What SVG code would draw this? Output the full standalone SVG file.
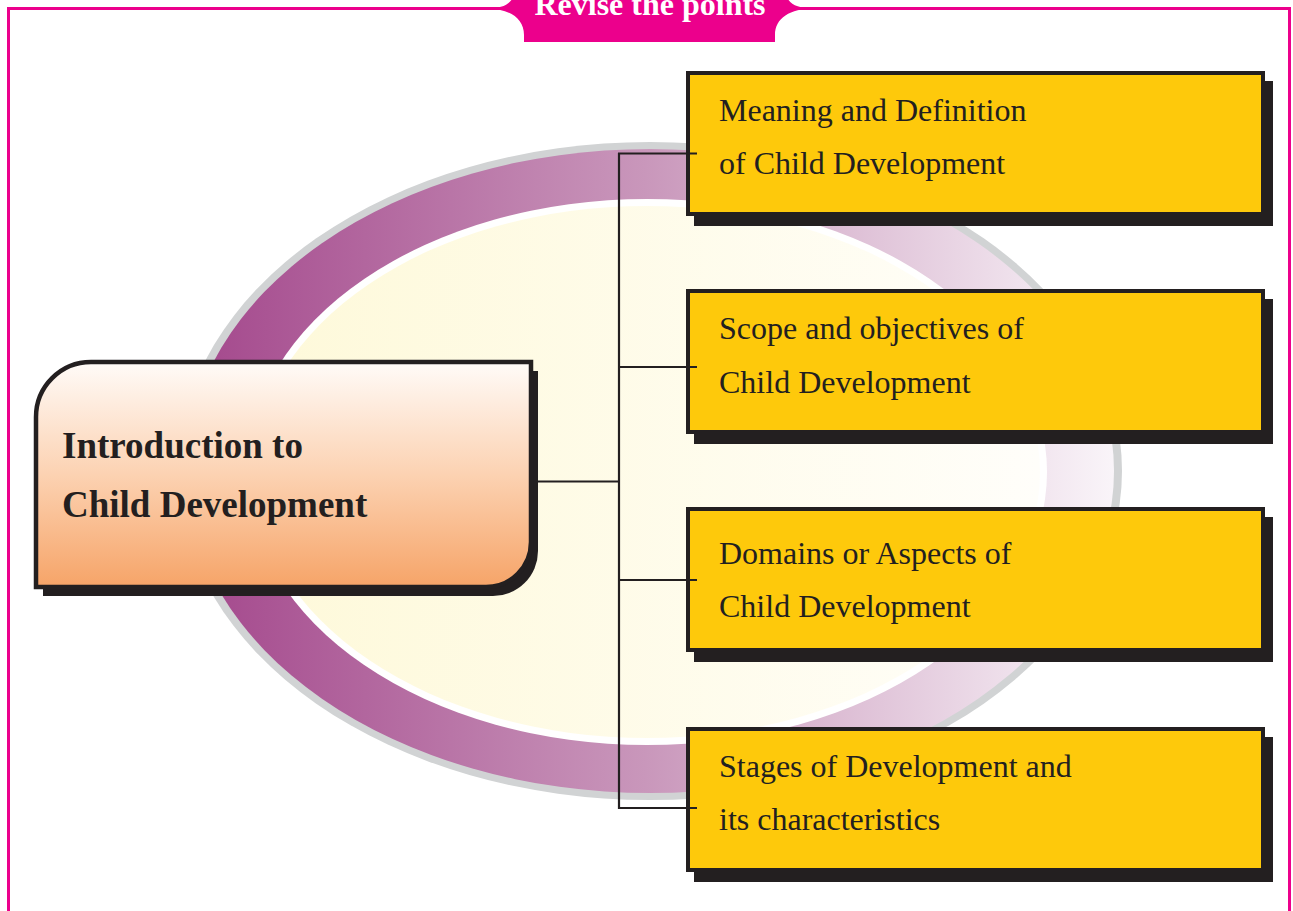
<svg xmlns="http://www.w3.org/2000/svg" width="1293" height="911" viewBox="0 0 1293 911">
  <defs>
    <linearGradient id="ring" x1="170" y1="0" x2="1122" y2="0" gradientUnits="userSpaceOnUse">
      <stop offset="0" stop-color="#a2448a"/>
      <stop offset="0.5" stop-color="#c997bb"/>
      <stop offset="1" stop-color="#faf6fa"/>
    </linearGradient>
    <linearGradient id="cream" x1="250" y1="0" x2="1040" y2="0" gradientUnits="userSpaceOnUse">
      <stop offset="0" stop-color="#fef9d9"/>
      <stop offset="1" stop-color="#fffefa"/>
    </linearGradient>
    <linearGradient id="peach" x1="0" y1="362" x2="0" y2="587" gradientUnits="userSpaceOnUse">
      <stop offset="0" stop-color="#fffbf8"/>
      <stop offset="0.5" stop-color="#fcd2b2"/>
      <stop offset="1" stop-color="#f6a468"/>
    </linearGradient>
  </defs>
  <style>
    .shadow { fill: #231f20; }
    .box { fill: #fec90b; stroke: #231f20; stroke-width: 4; }
    .boxtext { font-family: "Liberation Serif", "Times New Roman", serif; font-size: 32px; fill: #231f20; }
    .maintext { font-family: "Liberation Serif", "Times New Roman", serif; font-size: 37px; font-weight: bold; fill: #231f20; }
    .conn { stroke: #231f20; stroke-width: 2.2; fill: none; }
  </style>
  <rect x="0" y="0" width="1293" height="911" fill="#ffffff"/>

  <!-- pink frame -->
  <path d="M8.5 920 L8.5 8.5 L1289.5 8.5 L1289.5 920" fill="none" stroke="#ec008c" stroke-width="3"/>

  <!-- banner -->
  <g id="banner">
    <path d="M486 8.5 C503 8.5 511 4 514 -5 L786 -5 C789 4 797 8.5 814 8.5 C790 8.5 775 18 775 35 L775 42 L524 42 L524 35 C524 18 509 8.5 486 8.5 Z" fill="#ec008c"/>
    <text x="650" y="15" text-anchor="middle" font-family="Liberation Serif, Times New Roman, serif" font-size="32" font-weight="bold" fill="#ffffff">Revise the points</text>
  </g>

  <!-- background ellipse -->
  <g id="ellipse">
    <ellipse cx="650" cy="471" rx="472" ry="329" fill="#d1d3d4"/>
    <ellipse cx="650" cy="471" rx="464" ry="322" fill="url(#ring)"/>
    <ellipse cx="647" cy="472" rx="400" ry="273" fill="#ffffff"/>
    <ellipse cx="647" cy="472" rx="393" ry="266" fill="url(#cream)"/>
  </g>

  <!-- main node -->
  <g id="node-intro">
    <path class="shadow" d="M43 426 A55 55 0 0 1 98 371 L538 371 L538 551 A45 45 0 0 1 493 596 L43 596 Z"/>
    <path d="M36 417 A55 55 0 0 1 91 362 L531 362 L531 542 A45 45 0 0 1 486 587 L36 587 Z" fill="url(#peach)" stroke="#231f20" stroke-width="4.5"/>
    <text class="maintext" x="62" y="458">Introduction to</text>
    <text class="maintext" x="62" y="517">Child Development</text>
  </g>

  <!-- right nodes -->
  <g id="node-meaning">
    <rect class="shadow" x="694" y="81" width="579" height="145"/>
    <rect class="box" x="688" y="73" width="575" height="141"/>
    <text class="boxtext" x="719" y="121">Meaning and Definition</text>
    <text class="boxtext" x="719" y="174">of Child Development</text>
  </g>
  <g id="node-scope">
    <rect class="shadow" x="694" y="299" width="579" height="145"/>
    <rect class="box" x="688" y="291" width="575" height="141"/>
    <text class="boxtext" x="719" y="339">Scope and objectives of</text>
    <text class="boxtext" x="719" y="393">Child Development</text>
  </g>
  <g id="node-domains">
    <rect class="shadow" x="694" y="517" width="579" height="145"/>
    <rect class="box" x="688" y="509" width="575" height="141"/>
    <text class="boxtext" x="719" y="564">Domains or Aspects of</text>
    <text class="boxtext" x="719" y="617">Child Development</text>
  </g>
  <g id="node-stages">
    <rect class="shadow" x="694" y="737" width="579" height="145"/>
    <rect class="box" x="688" y="729" width="575" height="141"/>
    <text class="boxtext" x="719" y="777">Stages of Development and</text>
    <text class="boxtext" x="719" y="830">its characteristics</text>
  </g>

  <!-- connectors -->
  <g id="connectors">
    <line class="conn" x1="538" y1="481.5" x2="619" y2="481.5"/>
    <line class="conn" x1="619" y1="153" x2="619" y2="809"/>
    <line class="conn" x1="618" y1="153.5" x2="697" y2="153.5"/>
    <line class="conn" x1="618" y1="367" x2="697" y2="367"/>
    <line class="conn" x1="618" y1="580" x2="697" y2="580"/>
    <line class="conn" x1="618" y1="808" x2="697" y2="808"/>
  </g>
</svg>
